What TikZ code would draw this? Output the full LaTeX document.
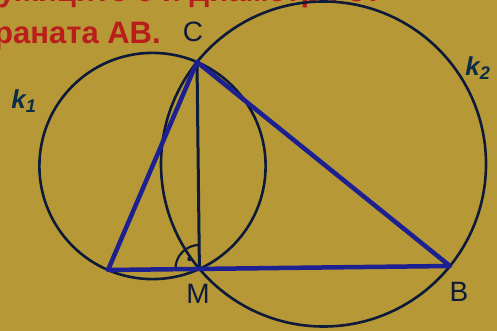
\documentclass[tikz,border=0pt]{standalone}
\usepackage{fontspec}
\setmainfont{Liberation Sans}
\usetikzlibrary{calc}
\definecolor{paper}{RGB}{182,152,54}
\definecolor{sideblue}{RGB}{28,32,145}
\definecolor{ink}{RGB}{14,26,58}
\definecolor{rubric}{RGB}{186,30,28}
\tikzset{
  side/.style={draw=sideblue, line width=4.5pt, line join=round, line cap=round},
  circ/.style={draw=ink, line width=2.6pt},
  vlabel/.style={text=ink, font=\fontsize{28}{32}\selectfont, inner sep=0pt},
  klabel/.style={text=ink!80!teal, font=\fontsize{26}{30}\selectfont\bfseries\itshape, inner sep=0pt},
  rubrictext/.style={text=rubric, font=\fontsize{31}{36}\selectfont\bfseries, inner sep=0pt, anchor=base west}
}
\begin{document}
\begin{tikzpicture}[x=1pt, y=-1pt]
  \useasboundingbox (0,0) rectangle (497,331);
  \clip (0,0) rectangle (497,331);
  \fill[paper] (0,0) rectangle (497,331);
  \node[rubrictext] (line1) at (-2,2) {ужиците с и диаметри от};
  \node[rubrictext] (line2) at (-6,44) {раната АВ.};
  \coordinate (A) at (108,270);
  \coordinate (C) at (197,62);
  \coordinate (B) at (450,266);
  \coordinate (M) at ($(A)!(C)!(B)$);
  \draw[circ] let \p1=($(C)-(A)$), \n1={veclen(\x1,\y1)/2} in ($(A)!0.5!(C)$) circle (\n1);
  \draw[circ] let \p1=($(B)-(C)$), \n1={veclen(\x1,\y1)/2} in ($(C)!0.5!(B)$) circle (\n1);
  \draw[circ, line width=3pt] (C) -- (M);
  \draw[circ, line width=2.2pt] (M) ++(180:24) arc[start angle=180, end angle=270, radius=24];
  \fill[ink] ($(M)+(225:14)$) circle (2.2);
  \draw[side] (A) -- (C) -- (B) -- cycle;
  \node[vlabel] (labC) at (193,32) {C};
  \node[vlabel] (labM) at (198,294) {M};
  \node[vlabel] (labB) at (459,292) {B};
  \node[klabel] (k1) at (24,101) {k\textsubscript{1}};
  \node[klabel] (k2) at (478,68) {k\textsubscript{2}};
\end{tikzpicture}
\end{document}
